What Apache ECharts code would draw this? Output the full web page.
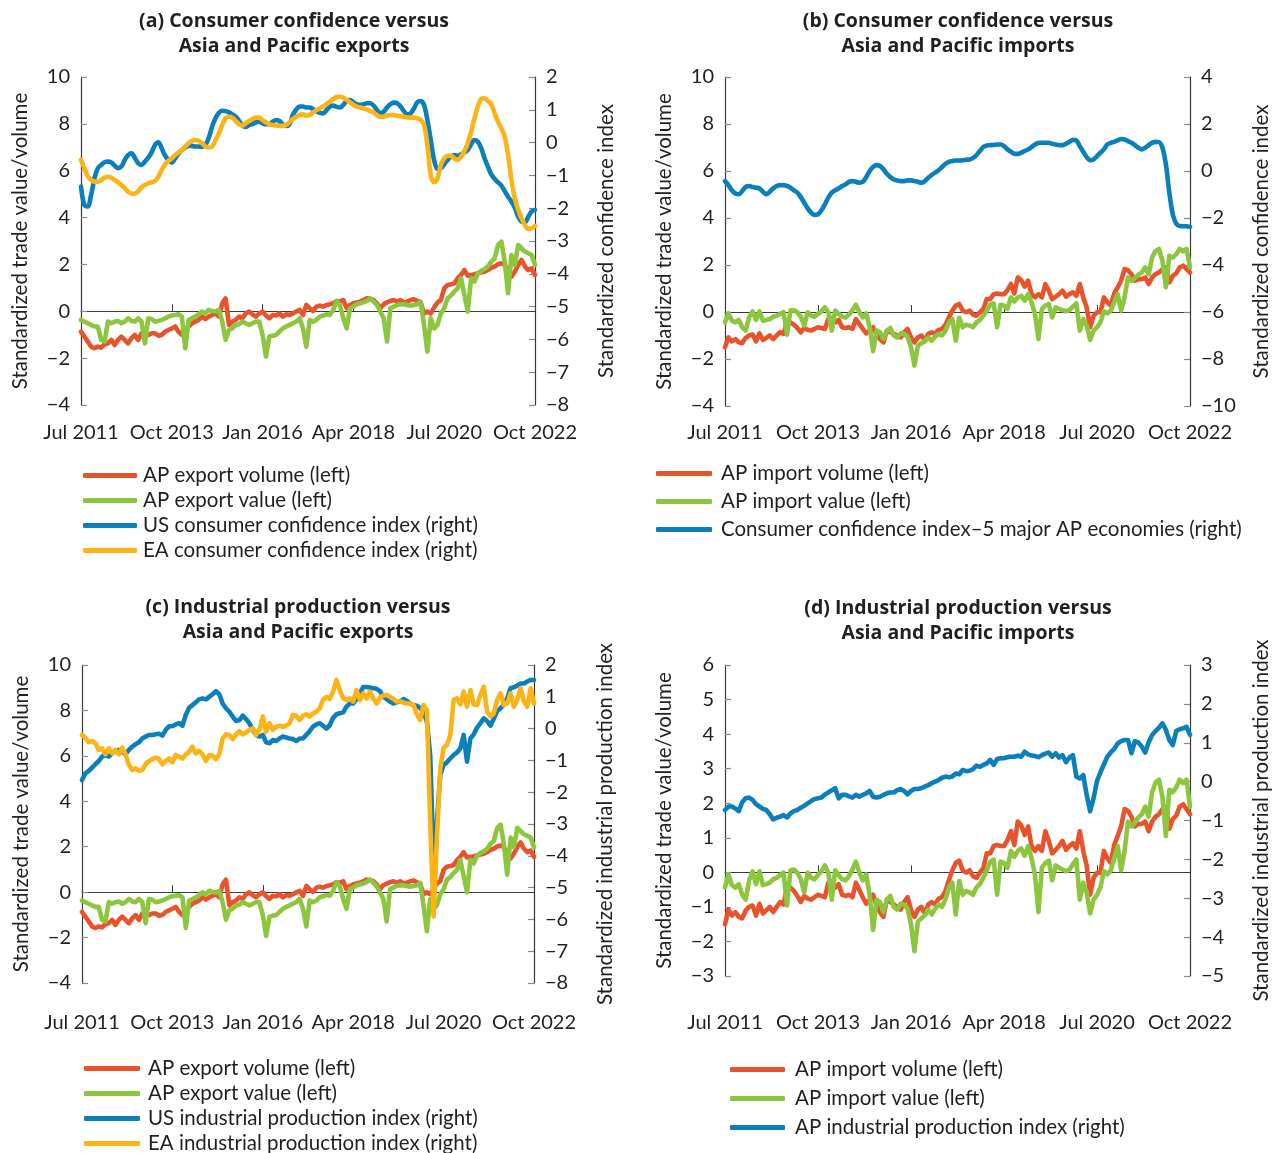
<!DOCTYPE html>
<html>
<head>
<meta charset="utf-8">
<script src="https://cdn.jsdelivr.net/npm/echarts@6/dist/echarts.min.js"></script>
<style>
  html, body { margin: 0; padding: 0; background: #fff; }
  #chart { width: 1274px; height: 1153px; }
</style>
</head>
<body>
<div id="chart"></div>
<script>
// monthly categories, Jul 2011 .. Oct 2022
const MONTH_NAMES = ["Jan","Feb","Mar","Apr","May","Jun","Jul","Aug","Sep","Oct","Nov","Dec"];
const MONTHS = [];
for (let i = 0; i < 136; i++) {
  const k = 6 + i;
  MONTHS.push(MONTH_NAMES[k % 12] + " " + (2011 + Math.floor(k / 12)));
}

// AP exports (left axis, panels a and c)
const EXP_VOL = [-0.87,-1.08,-1.29,-1.51,-1.58,-1.51,-1.55,-1.41,-1.37,-1.22,
  -1.44,-1.22,-1.08,-1.22,-1.37,-1.15,-1.01,-1.22,-0.94,-0.98,
  -1.01,-0.94,-0.94,-1.04,-1.01,-0.87,-0.8,-0.73,-0.65,-0.87,
  -1.01,-0.8,-0.65,-0.51,-0.44,-0.37,-0.23,-0.33,-0.23,-0.16,
  -0.09,-0.23,0.34,0.55,-0.58,-0.44,-0.37,-0.23,-0.3,-0.09,
  -0.01,-0.13,-0.23,-0.09,-0.01,-0.18,-0.3,-0.16,-0.18,-0.09,
  -0.23,-0.13,-0.16,-0.09,-0.01,0.06,-0.16,0.27,0.13,0.01,
  0.2,0.24,0.2,0.27,0.3,0.34,0.44,0.41,0.48,0.13,
  0.27,0.34,0.38,0.41,0.48,0.55,0.53,0.48,0.34,0.13,
  0.3,0.38,0.44,0.48,0.41,0.48,0.38,0.41,0.48,0.51,
  0.44,0.38,-0.09,-0.01,-0.09,0.16,0.38,0.48,0.98,1.12,
  1.15,1.19,1.41,1.55,1.76,1.52,1.55,1.58,1.62,1.66,
  1.69,1.76,1.86,1.91,2.01,2.05,1.98,1.76,1.48,1.69,
  1.98,2.19,1.91,1.76,1.83,1.55];
const EXP_VAL = [-0.37,-0.44,-0.51,-0.58,-0.65,-0.65,-1.22,-1.29,-0.44,-0.51,
  -0.44,-0.41,-0.51,-0.44,-0.3,-0.41,-0.44,-0.3,-0.44,-1.37,
  -0.3,-0.33,-0.44,-0.41,-0.37,-0.3,-0.23,-0.18,-0.16,-0.13,
  -0.23,-1.58,-0.37,-0.3,-0.23,-0.13,-0.01,-0.09,0.06,0.01,
  -0.01,0.06,-0.44,-1.22,-0.8,-0.73,-0.58,-0.55,-0.44,-0.51,
  -0.58,-0.51,-0.44,-0.44,-1.01,-1.93,-1.08,-1.04,-1.01,-0.87,
  -0.73,-0.65,-0.58,-0.51,-0.44,-0.3,-0.73,-1.51,-0.37,-0.44,
  -0.37,-0.23,-0.18,-0.13,-0.16,0.06,0.44,0.27,-0.3,-0.73,
  0.13,0.2,0.3,0.34,0.38,0.44,0.55,0.41,0.27,-0.01,
  -0.3,-1.29,0.13,0.2,0.27,0.3,0.3,0.27,0.24,0.27,
  0.3,0.41,-0.58,-1.72,-0.3,-0.73,-0.58,-0.09,0.13,0.55,
  0.67,0.84,0.98,1.41,0.7,-0.01,1.41,1.27,1.62,1.72,
  1.81,1.91,2.12,2.26,2.83,2.97,2.12,0.77,2.4,1.98,
  2.83,2.69,2.55,2.48,2.4,1.98];

// AP imports (left axis, panels b and d)
const IMP_VOL = [-1.5,-1.08,-1.25,-1.15,-1.29,-1.33,-1.1,-1.0,-0.96,-1.25,
  -0.91,-1.19,-1.1,-1.0,-1.15,-1.0,-0.86,-0.93,-0.44,-0.44,
  -0.54,-0.68,-0.86,-0.68,-0.76,-0.79,-0.72,-0.65,-0.68,-0.72,
  -0.3,-0.25,-0.44,-0.34,-0.65,-0.68,-0.65,-0.72,-0.3,-0.51,
  -0.72,-0.91,-0.79,-0.65,-0.96,-1.15,-1.29,-0.79,-0.86,-0.93,
  -1.0,-1.08,-0.86,-0.72,-1.08,-1.29,-1.08,-1.0,-1.19,-0.93,
  -0.86,-0.93,-0.76,-0.72,-0.54,-0.23,0.06,0.27,0.34,0.06,
  -0.01,0.06,-0.11,-0.16,-0.01,0.13,0.55,0.55,0.76,0.79,
  0.76,0.76,0.93,1.19,0.79,1.47,1.36,1.08,1.33,0.76,
  0.62,0.76,0.62,1.19,0.91,0.55,0.65,0.76,0.91,0.65,
  0.76,0.84,0.69,1.19,0.62,0.2,-0.65,-0.16,-0.01,-0.01,
  0.62,0.41,0.27,0.79,1.05,1.33,1.83,1.78,1.61,1.33,
  1.4,1.4,1.47,1.19,1.47,1.61,1.68,1.83,1.9,1.26,
  1.54,1.64,1.9,1.97,1.83,1.68];
const IMP_VAL = [-0.44,-0.06,-0.37,-0.44,-0.34,-0.65,-0.79,-0.23,0.03,-0.34,
  0.03,-0.37,-0.34,-0.3,-0.2,-0.16,-0.08,-0.01,-0.96,0.06,
  0.08,-0.01,-0.2,-0.58,-0.01,-0.16,-0.2,-0.08,0.03,0.2,
  -0.01,-0.79,0.06,-0.08,-0.2,-0.23,-0.11,0.08,0.31,-0.01,
  -0.23,-0.06,-0.65,-1.67,-0.79,-0.86,-1.15,-0.79,-0.68,-1.0,
  -1.08,-0.91,-0.93,-1.05,-1.5,-2.28,-1.43,-1.33,-1.25,-1.08,
  -1.22,-1.05,-0.93,-1.0,-0.79,-0.44,-0.3,-1.22,-0.25,-0.65,
  -0.54,-0.58,-0.65,-0.44,-0.34,-0.16,0.06,0.31,0.37,-0.65,
  0.31,0.27,0.13,0.62,0.45,0.62,0.69,0.48,0.76,0.41,
  -0.08,-1.15,0.13,0.27,0.34,-0.23,0.2,0.13,0.08,0.03,
  0.08,0.23,0.37,-0.79,-0.3,-0.58,-1.19,-0.79,-0.65,-0.44,
  0.03,-0.06,0.06,0.41,0.76,0.06,0.62,1.47,1.33,1.44,
  1.59,1.68,1.9,1.61,2.32,2.6,2.68,2.18,1.05,2.39,
  2.32,2.46,2.68,2.58,2.68,1.9];

// consumer confidence (right axis, panels a and b)
const US_CCI = [-1.34,-1.9,-1.95,-1.6,-1.09,-0.78,-0.68,-0.6,-0.58,-0.61,
  -0.7,-0.78,-0.73,-0.53,-0.38,-0.33,-0.46,-0.63,-0.68,-0.58,
  -0.46,-0.3,-0.07,0.01,-0.17,-0.4,-0.53,-0.61,-0.48,-0.33,
  -0.23,-0.15,-0.1,-0.1,-0.12,-0.12,-0.13,-0.07,0.15,0.49,
  0.74,0.91,0.97,0.96,0.92,0.86,0.79,0.66,0.52,0.48,
  0.54,0.56,0.62,0.64,0.59,0.56,0.56,0.64,0.69,0.66,
  0.56,0.51,0.56,0.84,1.01,1.1,1.1,1.07,1.07,1.02,
  0.96,0.91,0.89,0.99,1.1,1.13,1.09,1.07,1.15,1.27,
  1.3,1.23,1.17,1.15,1.17,1.2,1.2,1.13,0.99,0.89,
  0.94,1.07,1.17,1.22,1.2,1.1,0.96,0.86,0.89,1.04,
  1.23,1.27,1.15,0.69,0.08,-0.53,-0.8,-0.78,-0.66,-0.53,
  -0.43,-0.38,-0.4,-0.36,-0.3,-0.23,-0.05,0.08,0.03,-0.17,
  -0.48,-0.73,-0.97,-1.11,-1.21,-1.31,-1.48,-1.65,-1.8,-1.98,
  -2.26,-2.41,-2.43,-2.26,-2.1,-2.05];
const EA_CCI = [-0.53,-0.78,-1.02,-1.14,-1.19,-1.19,-1.14,-1.07,-1.04,-1.07,
  -1.14,-1.21,-1.29,-1.39,-1.5,-1.55,-1.56,-1.48,-1.37,-1.29,
  -1.24,-1.21,-1.17,-1.04,-0.84,-0.66,-0.56,-0.48,-0.38,-0.3,
  -0.23,-0.12,-0.02,0.05,0.08,0.05,-0.02,-0.12,-0.15,-0.12,
  0.08,0.28,0.54,0.74,0.79,0.76,0.66,0.56,0.52,0.59,
  0.66,0.72,0.76,0.76,0.69,0.62,0.56,0.54,0.52,0.51,
  0.51,0.54,0.62,0.72,0.79,0.84,0.86,0.82,0.84,0.92,
  0.99,1.04,1.1,1.17,1.25,1.33,1.39,1.4,1.37,1.3,
  1.23,1.15,1.1,1.07,1.04,1.01,0.96,0.92,0.84,0.79,
  0.79,0.82,0.84,0.84,0.82,0.81,0.79,0.77,0.76,0.76,
  0.74,0.69,0.54,-0.07,-0.99,-1.21,-1.09,-0.68,-0.48,-0.4,
  -0.4,-0.48,-0.53,-0.43,-0.26,-0.02,0.33,0.74,1.1,1.33,
  1.35,1.27,1.17,0.89,0.64,0.43,0.18,-0.38,-1.14,-1.7,
  -2.05,-2.31,-2.51,-2.63,-2.61,-2.54];
const AP_CCI = [-0.43,-0.6,-0.82,-0.96,-0.99,-0.85,-0.68,-0.64,-0.68,-0.71,
  -0.74,-0.88,-0.99,-0.88,-0.74,-0.64,-0.6,-0.61,-0.64,-0.71,
  -0.82,-0.92,-1.11,-1.35,-1.59,-1.77,-1.87,-1.84,-1.67,-1.42,
  -1.13,-0.92,-0.82,-0.74,-0.64,-0.57,-0.46,-0.43,-0.46,-0.5,
  -0.46,-0.26,0,0.17,0.25,0.21,0.07,-0.12,-0.26,-0.36,
  -0.4,-0.43,-0.43,-0.4,-0.4,-0.43,-0.46,-0.5,-0.43,-0.29,
  -0.17,-0.07,0.03,0.17,0.31,0.39,0.42,0.45,0.45,0.46,
  0.48,0.49,0.56,0.68,0.85,1.02,1.09,1.1,1.11,1.13,
  1.13,1.06,0.92,0.82,0.73,0.73,0.78,0.85,0.92,1.02,
  1.13,1.19,1.2,1.2,1.2,1.16,1.13,1.1,1.1,1.16,
  1.24,1.33,1.3,1.06,0.82,0.59,0.46,0.49,0.63,0.78,
  0.92,1.13,1.2,1.24,1.3,1.36,1.34,1.27,1.2,1.1,
  0.99,0.92,0.99,1.1,1.2,1.24,1.23,0.99,0.28,-0.92,
  -1.84,-2.24,-2.34,-2.35,-2.35,-2.38];

// industrial production (right axis, panels c and d)
const US_IP = [-1.62,-1.41,-1.33,-1.23,-1.12,-1.02,-0.88,-0.81,-0.88,-0.78,
  -0.7,-0.67,-0.73,-0.81,-0.67,-0.57,-0.49,-0.43,-0.31,-0.25,
  -0.2,-0.2,-0.18,-0.16,-0.22,-0.04,0.07,0.08,0.13,0.17,
  0.09,0.43,0.66,0.74,0.83,0.92,0.95,0.92,1.0,1.08,
  1.18,1.08,0.79,0.64,0.53,0.38,0.24,0.27,0.41,0.3,
  0.17,-0.04,-0.2,-0.25,-0.2,-0.43,-0.46,-0.36,-0.39,-0.31,
  -0.25,-0.28,-0.31,-0.33,-0.39,-0.31,-0.31,-0.2,-0.08,0.06,
  0.13,0.17,0.09,0.0,0.11,0.34,0.45,0.48,0.51,0.69,
  0.79,0.79,0.93,1.11,1.31,1.31,1.29,1.27,1.25,1.18,
  1.0,0.93,0.85,0.79,0.83,0.85,0.93,0.87,0.79,0.74,
  0.72,0.64,0.53,0.22,-0.83,-4.18,-2.93,-1.46,-1.14,-1.06,
  -0.94,-0.83,-0.75,-0.62,-0.2,-1.04,-0.31,-0.18,0.03,0.17,
  0.32,0.24,0.09,0.32,0.55,0.64,0.76,0.95,1.27,1.3,
  1.35,1.42,1.42,1.48,1.53,1.53];
const EA_IP = [-0.2,-0.29,-0.43,-0.39,-0.46,-0.67,-0.62,-0.81,-0.62,-0.78,
  -0.67,-0.81,-0.6,-0.81,-1.14,-1.3,-1.25,-1.33,-1.3,-1.12,
  -1.02,-0.96,-0.91,-0.96,-1.12,-1.02,-0.94,-1.06,-0.83,-0.88,
  -0.94,-0.81,-0.73,-0.57,-0.78,-0.7,-0.81,-1.02,-0.83,-0.85,
  -0.96,-0.81,-0.31,-0.18,-0.2,-0.33,-0.18,-0.08,-0.18,-0.12,
  -0.04,0.01,-0.2,-0.04,0.38,-0.1,0.17,-0.04,0.06,0.09,
  0.06,0.09,0.17,0.43,0.41,0.27,0.41,0.45,0.38,0.48,
  0.53,0.64,0.9,1.0,0.93,1.16,1.53,1.21,0.95,0.9,
  0.95,0.85,1.21,0.9,1.11,0.95,1.16,0.95,0.79,0.97,
  1.04,1.06,1.0,0.93,0.85,0.85,0.82,0.79,0.79,0.74,
  0.45,0.27,0.74,0.58,-2.93,-5.91,-3.45,-1.25,-0.6,-0.52,
  -0.2,0.9,0.95,0.76,1.16,0.69,1.21,0.76,0.74,1.06,
  1.32,0.53,0.38,0.48,0.9,1.11,0.74,0.79,1.11,0.69,
  0.9,1.27,0.85,0.69,1.27,0.79];
const AP_IP = [-0.73,-0.64,-0.64,-0.69,-0.76,-0.53,-0.43,-0.41,-0.47,-0.58,
  -0.64,-0.7,-0.73,-0.84,-0.97,-0.93,-0.9,-0.86,-0.92,-0.82,
  -0.76,-0.73,-0.67,-0.62,-0.56,-0.5,-0.45,-0.43,-0.41,-0.33,
  -0.28,-0.22,-0.17,-0.43,-0.34,-0.34,-0.38,-0.41,-0.34,-0.39,
  -0.34,-0.3,-0.24,-0.39,-0.41,-0.39,-0.34,-0.3,-0.28,-0.28,
  -0.22,-0.19,-0.24,-0.33,-0.24,-0.19,-0.19,-0.17,-0.13,-0.09,
  -0.04,0.0,0.04,0.1,0.13,0.11,0.13,0.21,0.19,0.3,
  0.27,0.28,0.32,0.41,0.38,0.43,0.47,0.56,0.43,0.58,
  0.6,0.6,0.63,0.64,0.64,0.67,0.64,0.77,0.7,0.67,
  0.66,0.63,0.68,0.72,0.75,0.64,0.73,0.62,0.68,0.5,
  0.62,0.68,0.13,0.08,0.17,-0.34,-0.76,-0.43,0.02,0.24,
  0.44,0.64,0.75,0.84,0.98,1.04,1.07,1.07,0.73,1.04,
  1.01,0.9,0.75,1.01,1.2,1.3,1.39,1.5,1.33,1.07,
  0.94,1.3,1.35,1.37,1.41,1.2];

const FONT = "Lato";
const TXT = "#231f20";
const RED = "#e8532b", GREEN = "#8cc63f", BLUE = "#0a7fbc", YELLOW = "#fcb316";

const chart = echarts.init(document.getElementById("chart"));

// panel layout: grid box, axis ranges, axis names
const panels = [
  { grid: { left: 81, top: 77, width: 454, height: 328 }, left: [-4, 10, 2], right: [-8, 2, 1],
    rightName: "Standardized confidence index", labelMargin: 18 },
  { grid: { left: 725, top: 77, width: 465, height: 329 }, left: [-4, 10, 2], right: [-10, 4, 2],
    rightName: "Standardized confidence index", labelMargin: 17 },
  { grid: { left: 82, top: 665, width: 452, height: 318 }, left: [-4, 10, 2], right: [-8, 2, 1],
    rightName: "Standardized industrial production index", labelMargin: 30 },
  { grid: { left: 725, top: 665, width: 465, height: 311 }, left: [-3, 6, 1], right: [-5, 3, 1],
    rightName: "Standardized industrial production index", labelMargin: 37 },
];

const minus = (v) => String(v).replace("-", "\u2212");

const grids = [], xAxes = [], yAxes = [];
panels.forEach((p, g) => {
  grids.push(p.grid);
  // zero line with small inside ticks
  xAxes.push({
    type: "category", gridIndex: g, data: MONTHS, boundaryGap: false, position: "bottom",
    axisLine: { onZero: true, onZeroAxisIndex: 2 * g, lineStyle: { color: "#3a3a3a", width: 1.2 } },
    axisTick: { show: true, inside: true, interval: 26, length: 7, lineStyle: { color: "#3a3a3a" } },
    axisLabel: { show: false },
    splitLine: { show: false },
  });
  // month labels under the plot
  xAxes.push({
    type: "category", gridIndex: g, data: MONTHS, boundaryGap: false, position: "bottom",
    axisLine: { show: false }, axisTick: { show: false },
    axisLabel: { interval: 26, color: TXT, fontFamily: FONT, fontSize: 20, margin: p.labelMargin },
  });
  const side = (pos, r, name, gap) => ({
    type: "value", gridIndex: g, position: pos, min: r[0], max: r[1], interval: r[2],
    name: name, nameLocation: "middle", nameGap: gap, nameRotate: 90,
    nameTextStyle: { color: TXT, fontFamily: FONT, fontSize: 20.5 },
    axisLine: { show: true, onZero: false, lineStyle: { color: "#3a3a3a", width: 1.2 } },
    axisTick: { show: true, inside: true, length: 6, lineStyle: { color: "#8a8a8a", width: 1.2 } },
    axisLabel: { color: TXT, fontFamily: FONT, fontSize: 20, margin: 11, formatter: minus },
    splitLine: { show: false },
  });
  yAxes.push(side("left", p.left, "Standardized trade value/volume", 50));
  yAxes.push(side("right", p.right, p.rightName, 61));
});

function line(name, data, color, g, right, smooth) {
  return {
    name: name, type: "line", data: data,
    xAxisIndex: 2 * g, yAxisIndex: 2 * g + (right ? 1 : 0),
    showSymbol: false, smooth: smooth ? 0.35 : false,
    lineStyle: { color: color, width: 4.6, cap: "round", join: "round" },
    itemStyle: { color: color },
    emphasis: { disabled: true },
  };
}

const series = [
  line("AP export volume (left)", EXP_VOL, RED, 0, false),
  line("AP export value (left)", EXP_VAL, GREEN, 0, false),
  line("US consumer confidence index (right)", US_CCI, BLUE, 0, true, true),
  line("EA consumer confidence index (right)", EA_CCI, YELLOW, 0, true, true),

  line("AP import volume (left)", IMP_VOL, RED, 1, false),
  line("AP import value (left)", IMP_VAL, GREEN, 1, false),
  line("Consumer confidence index\u20135 major AP economies (right)", AP_CCI, BLUE, 1, true, true),

  line("AP export volume (left)", EXP_VOL, RED, 2, false),
  line("AP export value (left)", EXP_VAL, GREEN, 2, false),
  line("US industrial production index (right)", US_IP, BLUE, 2, true),
  line("EA industrial production index (right)", EA_IP, YELLOW, 2, true),

  line("AP import volume (left)", IMP_VOL, RED, 3, false),
  line("AP import value (left)", IMP_VAL, GREEN, 3, false),
  line("AP industrial production index (right)", AP_IP, BLUE, 3, true),
];

// vertical legend; pad = extra space between the line sample and the text
function legend(names, left, top, width, gap, pad) {
  return {
    data: names.map((n) => ({ name: n, icon: "roundRect" })),
    orient: "vertical", left: left, top: top, height: 120, padding: 0,
    itemWidth: width, itemHeight: 5, itemGap: gap,
    selectedMode: false,
    textStyle: { color: TXT, fontFamily: FONT, fontSize: 20.5, lineHeight: 20, padding: [0, 0, 0, pad] },
  };
}

function title(text, x, y) {
  return {
    text: text, left: x, top: y, textAlign: "center", padding: 0,
    textStyle: { color: TXT, fontFamily: "Open Sans", fontSize: 19.5, fontWeight: "bold", lineHeight: 25 },
  };
}

chart.setOption({
  animation: false,
  title: [
    title("(a) Consumer confidence versus\nAsia and Pacific exports", 294, 9),
    title("(b) Consumer confidence versus\nAsia and Pacific imports", 958, 9),
    title("(c) Industrial production versus\nAsia and Pacific exports", 298, 595),
    title("(d) Industrial production versus\nAsia and Pacific imports", 958, 596),
  ],
  legend: [
    legend(["AP export volume (left)", "AP export value (left)",
      "US consumer confidence index (right)", "EA consumer confidence index (right)"], 83, 465, 54, 4, 1),
    legend(["AP import volume (left)", "AP import value (left)",
      "Consumer confidence index\u20135 major AP economies (right)"], 656, 463, 56, 7, 4),
    legend(["AP export volume (left)", "AP export value (left)",
      "US industrial production index (right)", "EA industrial production index (right)"], 84, 1058, 56, 4, 3),
    legend(["AP import volume (left)", "AP import value (left)",
      "AP industrial production index (right)"], 730, 1059, 55, 8, 5),
  ],
  grid: grids,
  xAxis: xAxes,
  yAxis: yAxes,
  series: series,
});
</script>
</body>
</html>
